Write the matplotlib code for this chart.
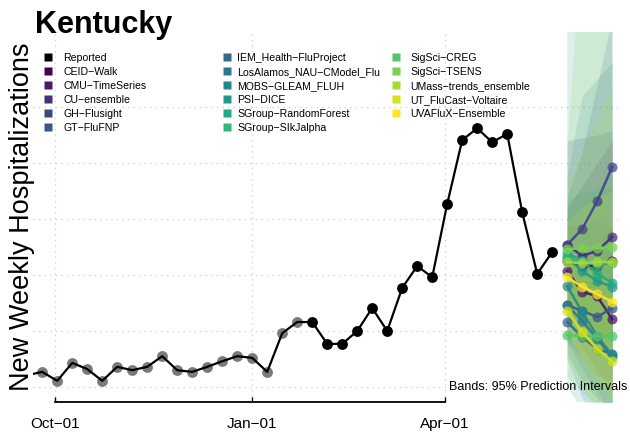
import numpy as np
import matplotlib
matplotlib.use('Agg')
import matplotlib.pyplot as plt
import matplotlib.dates as mdates
from matplotlib.lines import Line2D

plt.rcParams['font.family'] = ['Liberation Sans', 'DejaVu Sans']

# reported weekly hospitalizations (first one sits left of the plot edge)
rep_start = np.datetime64('2022-09-18')
reported = [121, 127, 111, 143, 132, 111, 136, 130, 136, 155, 130, 127, 136, 146,
            155, 152, 127, 196, 216, 216, 177, 177, 200, 241, 200, 277, 316, 296,
            427, 541, 562, 537, 552, 412, 302, 341]
n_grey = 19   # older values drawn in grey

models = ['CEID-Walk', 'CMU-TimeSeries', 'CU-ensemble', 'GH-Flusight', 'GT-FluFNP',
          'IEM_Health-FluProject', 'LosAlamos_NAU-CModel_Flu', 'MOBS-GLEAM_FLUH',
          'PSI-DICE', 'SGroup-RandomForest', 'SGroup-SIkJalpha', 'SigSci-CREG',
          'SigSci-TSENS', 'UMass-trends_ensemble', 'UT_FluCast-Voltaire',
          'UVAFluX-Ensemble']

# 4 weekly horizons after the last report
fc_point = [
    [325, 316, 316, 325],
    [307, 270, 262, 221],
    [354, 334, 343, 368],
    [354, 382, 432, 493],
    [246, 236, 225, 241],
    [216, 189, 168, 159],
    [246, 218, 186, 154],
    [280, 234, 191, 157],
    [332, 307, 289, 279],
    [339, 325, 302, 286],
    [329, 325, 318, 321],
    [193, 191, 191, 191],
    [346, 348, 348, 350],
    [323, 321, 323, 323],
    [236, 198, 168, 146],
    [296, 279, 266, 252],
]
fc_lower = [
    [240, 200, 170, 150],
    [230, 170, 130, 90],
    [270, 220, 200, 190],
    [280, 270, 280, 300],
    [180, 150, 120, 110],
    [160, 110, 80, 60],
    [180, 130, 90, 50],
    [150, 80, 40, 20],
    [100, 60, 40, 30],
    [250, 200, 160, 130],
    [260, 220, 190, 170],
    [120, 90, 70, 60],
    [220, 180, 150, 130],
    [200, 150, 110, 80],
    [150, 100, 60, 40],
    [200, 150, 120, 90],
]
fc_upper = [
    [420, 460, 500, 540],
    [390, 380, 400, 380],
    [540, 545, 550, 557],
    [440, 520, 640, 760],
    [320, 330, 340, 390],
    [280, 290, 290, 300],
    [320, 320, 320, 330],
    [480, 620, 650, 680],
    [800, 900, 1000, 1100],
    [430, 450, 450, 460],
    [400, 430, 460, 480],
    [270, 300, 320, 330],
    [520, 900, 1000, 1000],
    [460, 520, 580, 640],
    [330, 320, 300, 290],
    [400, 420, 440, 450],
]

grid_y = [100, 200, 300, 400, 500, 600]
tick_dates = ['2022-10-01', '2023-01-01', '2023-04-01']

rep_dates = rep_start + np.arange(len(reported)) * np.timedelta64(7, 'D')
fc_dates = rep_dates[-1] + np.arange(1, 5) * np.timedelta64(7, 'D')
cols = plt.cm.viridis(np.linspace(0, 1, len(models)))

fig = plt.figure(figsize=(6.3, 4.35), dpi=100)
ax = fig.add_axes([33/630, 32/435, 585/630, 370/435])

# prediction bands first
for i in range(len(models)):
    ax.fill_between(fc_dates, fc_lower[i], fc_upper[i], color=cols[i], alpha=0.15,
                    linewidth=0, zorder=2)

# reported series
ax.plot(rep_dates[:n_grey], reported[:n_grey], 'o', color='#7a7a7a', ms=7.8,
        mec='none', zorder=3)
ax.plot(rep_dates, reported, '-', color='black', lw=1.6, zorder=4)
ax.plot(rep_dates[n_grey:], reported[n_grey:], 'o', color='black', ms=7.8,
        mec='none', zorder=5)

# forecasts
for i in range(len(models)):
    ax.plot(fc_dates, fc_point[i], '-', color=cols[i], lw=1.8, alpha=0.9, zorder=6)
    ax.plot(fc_dates, fc_point[i], 'o', color=cols[i], ms=7.2, mec='none',
            alpha=0.75, zorder=6)

d0 = mdates.date2num(np.datetime64('2022-10-01'))
ax.set_xlim(d0 - 10.3, d0 + 262.7)
ax.set_ylim(73.2, 733.9)

ticks = [np.datetime64(d) for d in tick_dates]
ax.set_xticks(ticks)
ax.xaxis.set_major_formatter(mdates.DateFormatter('%b\u2212%d'))
ax.set_yticks(grid_y)
ax.tick_params(axis='y', length=0, labelleft=False)
ax.tick_params(axis='x', direction='in', length=3.5, width=1, pad=10, labelsize=11)
ax.grid(True, color='#d3d3d3', linestyle=(0, (1, 3)), lw=1)
ax.set_axisbelow(True)
for s in ['top', 'right', 'left']:
    ax.spines[s].set_visible(False)
ax.spines['bottom'].set_bounds(ticks[0], ticks[-1])
ax.spines['bottom'].set_linewidth(1.3)

fig.text(35/630, 1 - 33/435, 'Kentucky', fontsize=22, fontweight='bold',
         ha='left', va='baseline')
fig.text(22/630, 1 - 217/435, 'New Weekly Hospitalizations', fontsize=19.5,
         rotation=90, ha='center', va='center')
fig.text(627/630, 1 - 387/435, 'Bands: 95% Prediction Intervals', fontsize=9,
         ha='right', va='center')

# legend, three columns
labels = ['Reported'] + models
lcols = ['black'] + list(cols)
sq_x = [48, 227, 396]
tx_x = [63, 237, 410]
for k, (lab, c) in enumerate(zip(labels, lcols)):
    cc, r = k // 6, k % 6
    yy = 1 - (58 + 14 * r) / 435
    fig.add_artist(Line2D([sq_x[cc] / 630], [yy], marker='s', ms=5.8, color=c,
                          mec='none', transform=fig.transFigure))
    fig.text(tx_x[cc] / 630, yy, lab.replace('-', '\u2212'), fontsize=7.6,
             ha='left', va='center')

fig.savefig('out.png', dpi=100)
